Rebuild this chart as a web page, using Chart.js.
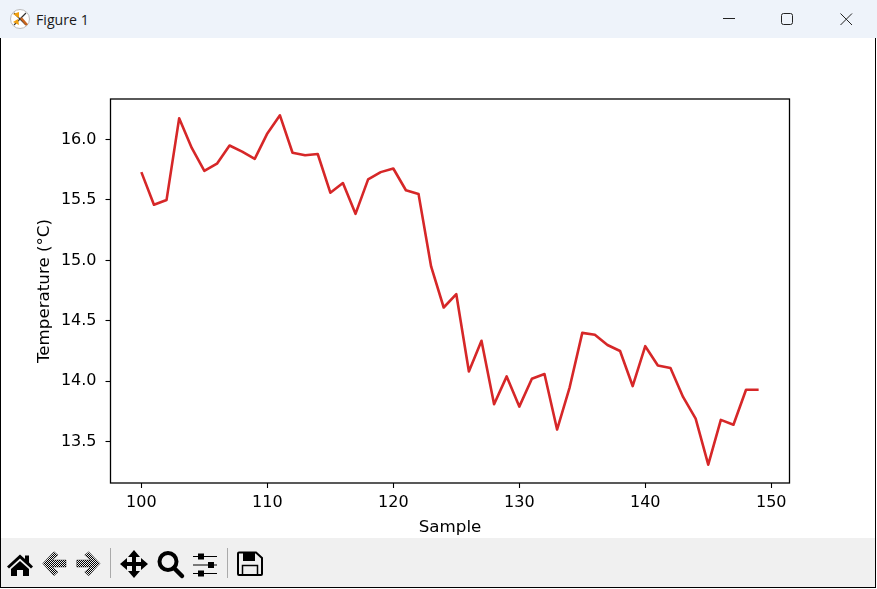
<!DOCTYPE html>
<html>
<head>
<meta charset="utf-8">
<title>Figure 1</title>
<script src="https://cdn.jsdelivr.net/npm/chart.js@4/dist/chart.umd.min.js"></script>
<style>
    html, body { margin: 0; padding: 0; width: 877px; height: 589px; overflow: hidden; background: #fff; }
    #titlebar { position: absolute; left: 0; top: 0; width: 877px; height: 38px; background: #eef3fa; }
    #titlebar span { position: absolute; left: 36px; top: 11px; font: 14.2px "Open Sans", sans-serif; color: #1a1a1a; line-height: 18px; }
    #titlebar svg, #toolbar svg { position: absolute; left: 0; top: 0; }
    #frame { position: absolute; left: 0; top: 38px; width: 874px; height: 549px; border-style: solid; border-color: #000; border-width: 0 1px 1px 1px; }
    #plot { position: absolute; left: 0; top: 38px; }
    #toolbar { position: absolute; left: 1px; top: 538px; width: 874px; height: 49px; background: #f0f0f0; }
</style>
</head>
<body>
<div id="titlebar">
    <svg width="877" height="38">
        <circle cx="20" cy="19" r="9.5" fill="#fff" stroke="#bbb"/>
        <path d="M14 13 L26 25 M26 13 L14 25" stroke="#333" stroke-width="1.2"/>
        <path d="M13 14 L19 12 L19 18 Z M13 22 L18 19 L19 25 Z" fill="#f0a010"/>
        <path d="M21 18 L27 25" stroke="#c8641e" stroke-width="2.5"/>
        <path d="M723 18.5 H735" stroke="#222" stroke-width="1"/>
        <rect x="781.5" y="13.5" width="11" height="11" rx="2" fill="none" stroke="#222"/>
        <path d="M840.5 13.5 L852 25 M852 13.5 L840.5 25" stroke="#222" stroke-width="1"/>
    </svg>
    <span>Figure 1</span>
</div>
<div id="frame"></div>
<canvas id="plot" width="877" height="500"></canvas>
<div id="toolbar">
    <svg width="874" height="49">
        <defs>
            <pattern id="dither" width="2" height="2" patternUnits="userSpaceOnUse">
                <rect width="1" height="1" fill="#000"/><rect x="1" y="1" width="1" height="1" fill="#000"/>
            </pattern>
        </defs>
        <path d="M6 28.5 L19 16.5 L24 21 V17.5 H28 V24.5 L32 28.5 L30 30.5 L19 20.5 L8 30.5 Z M10 31 L19 23 L28 31 V38 H22 V32 H16 V38 H10 Z" fill="#000"/>
        <g id="arrows" stroke="#000" stroke-opacity="0.35" stroke-width="1">
            <path d="M41.7 25.5 L53 13.7 L57 17 L51 22 H65 V29 H51 L57 34 L53 37.7 Z" fill="url(#dither)"/>
            <path d="M99 25.5 L87.7 13.7 L83.7 17 L89.7 22 H75.7 V29 H89.7 L83.7 34 L87.7 37.7 Z" fill="url(#dither)"/>
        </g>
        <rect x="109" y="10" width="1" height="30" fill="#aaa"/>
        <path d="M133 12 L139 19 H135 V24 H140 V20 L147 26 L140 32 V28 H135 V33 H139 L133 40 L127 33 H131 V28 H126 V32 L119 26 L126 20 V24 H131 V19 H127 Z" fill="#000"/>
        <circle cx="167" cy="23.5" r="8.5" fill="none" stroke="#000" stroke-width="4"/>
        <path d="M173 30 L181 38" stroke="#000" stroke-width="4.5" stroke-linecap="round"/>
        <path d="M192 18.5 H216 M192 27 H216 M192 35.5 H216" stroke="#000" stroke-width="1.2"/>
        <rect x="197" y="15.5" width="6" height="6" fill="#000"/>
        <rect x="207" y="24" width="6" height="6" fill="#000"/>
        <rect x="197" y="32.5" width="6" height="6" fill="#000"/>
        <rect x="226" y="10" width="1" height="30" fill="#aaa"/>
        <path d="M238 14.5 H255 L261 20 V36 Q261 37 260 37 H238 Q237 37 237 36 V15.5 Q237 14.5 238 14.5 Z" fill="none" stroke="#000" stroke-width="2"/>
        <rect x="242" y="15" width="12" height="8" fill="#000"/>
        <rect x="241.5" y="27.5" width="15" height="9.5" fill="none" stroke="#000" stroke-width="1.5"/>
    </svg>
</div>
<script>
// --- Data ---
const samples = [100, 101, 102, 103, 104, 105, 106, 107, 108, 109, 110, 111, 112, 113, 114, 115, 116, 117, 118, 119, 120, 121, 122, 123, 124, 125, 126, 127, 128, 129, 130, 131, 132, 133, 134, 135, 136, 137, 138, 139, 140, 141, 142, 143, 144, 145, 146, 147, 148, 149];
const temperatures = [15.73, 15.46, 15.50, 16.175, 15.93, 15.74, 15.80, 15.95, 15.90, 15.84, 16.05, 16.20, 15.89, 15.87, 15.88, 15.56, 15.64, 15.385, 15.67, 15.73, 15.76, 15.58, 15.55, 14.95, 14.61, 14.72, 14.08, 14.335, 13.81, 14.04, 13.79, 14.02, 14.06, 13.60, 13.95, 14.40, 14.385, 14.30, 14.25, 13.96, 14.29, 14.13, 14.11, 13.87, 13.69, 13.31, 13.68, 13.64, 13.93, 13.93];
const xTicks = [100, 110, 120, 130, 140, 150];
const yTicks = [13.5, 14.0, 14.5, 15.0, 15.5, 16.0];

const fontFamily = '"DejaVu Sans"';
const tickFontSize = 16;
const titleFontSize = 16.7;

// Box round the plot area, matplotlib style
const axesBox = {
    id: 'axesBox',
    afterDraw(chart) {
        const { ctx, chartArea: a } = chart;
        ctx.save();
        ctx.strokeStyle = '#000';
        ctx.lineWidth = 1.3;
        ctx.strokeRect(a.left, a.top, a.right - a.left, a.bottom - a.top);
        ctx.restore();
    }
};

new Chart(document.getElementById('plot').getContext('2d'), {
    type: 'line',
    data: {
        datasets: [{
            data: samples.map((s, i) => ({ x: s, y: temperatures[i] })),
            borderColor: '#d62728',
            borderWidth: 2.6,
            borderJoinStyle: 'round',
            pointRadius: 0,
            tension: 0,
            fill: false
        }]
    },
    options: {
        responsive: false,
        animation: false,
        devicePixelRatio: 1,
        layout: { padding: { left: 0, right: 87.5, top: 61, bottom: 0 } },
        plugins: { legend: { display: false }, tooltip: { enabled: false } },
        scales: {
            x: {
                type: 'linear',
                min: 97.55,
                max: 151.45,
                afterBuildTicks: scale => { scale.ticks = xTicks.map(v => ({ value: v })); },
                afterFit: scale => { scale.height = 55; },
                grid: { drawOnChartArea: false, drawTicks: true, tickLength: 5, tickWidth: 1.1, tickColor: '#000' },
                border: { display: false },
                ticks: {
                    color: '#000',
                    font: { family: fontFamily, size: tickFontSize },
                    padding: 5,
                    maxRotation: 0,
                    autoSkip: false,
                    callback: v => String(v)
                },
                title: {
                    display: true,
                    text: 'Sample',
                    color: '#000',
                    font: { family: fontFamily, size: titleFontSize },
                    padding: { top: 0, bottom: 0 }
                }
            },
            y: {
                type: 'linear',
                min: 13.158,
                max: 16.335,
                afterBuildTicks: scale => { scale.ticks = yTicks.map(v => ({ value: v })); },
                afterFit: scale => { scale.width = 110.5; },
                grid: { drawOnChartArea: false, drawTicks: true, tickLength: 5, tickWidth: 1.1, tickColor: '#000' },
                border: { display: false },
                ticks: {
                    color: '#000',
                    font: { family: fontFamily, size: tickFontSize },
                    padding: 9,
                    autoSkip: false,
                    callback: v => v.toFixed(1)
                },
                title: {
                    display: true,
                    text: 'Temperature (°C)',
                    color: '#000',
                    font: { family: fontFamily, size: titleFontSize },
                    padding: { top: 35, bottom: 0 }
                }
            }
        }
    },
    plugins: [axesBox]
});
</script>
</body>
</html>
